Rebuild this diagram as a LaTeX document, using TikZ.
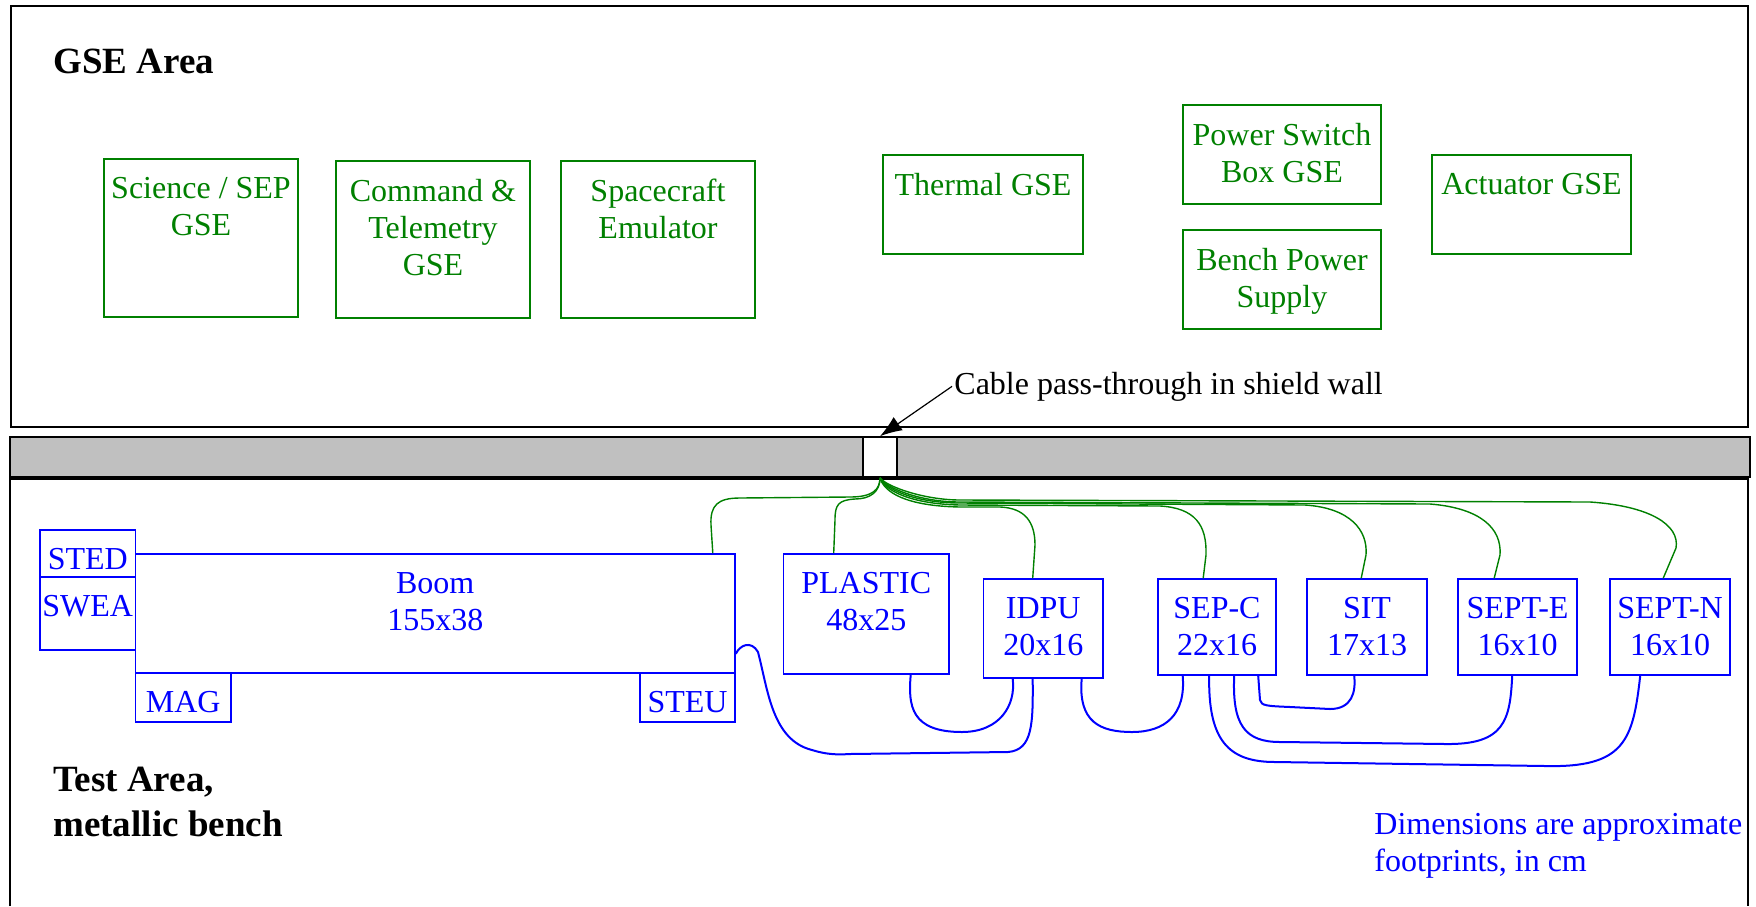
\documentclass[tikz,border=0pt]{standalone}
\usepackage{fontspec}
\setmainfont{Liberation Serif}
\usetikzlibrary{arrows.meta,calc,fit,positioning}
\definecolor{gsegreen}{RGB}{0,128,0}
\definecolor{wallgray}{RGB}{192,192,192}

\begin{document}
\begin{tikzpicture}[x=0.5pt,y=-0.5pt,font=\fontsize{16}{18.5}\selectfont,
  gbox/.style={draw=gsegreen,line width=0.65pt,inner sep=0pt},
  bbox/.style={draw=blue,line width=0.8pt,inner sep=0pt},
  gtxt/.style={text=gsegreen,align=center,anchor=north,inner sep=0pt},
  btxt/.style={text=blue,align=center,anchor=north,inner sep=0pt},
  area/.style={font=\fontsize{18.5}{22.5}\selectfont\bfseries,align=left,inner sep=0pt},
  gcable/.style={draw=gsegreen,line width=0.7pt},
  bcable/.style={draw=blue,line width=1pt},
  node distance=9.3pt]
 \useasboundingbox (0,0) rectangle (1756,906);
 % areas and shield wall
 \draw[line width=1pt] (11,6) rectangle (1748,427);
 \draw[line width=1pt] (10,906) -- (10,479) -- (1748,479) -- (1748,906);
 \draw[fill=wallgray,line width=0.8pt] (10,437) rectangle (863,477);
 \draw[fill=wallgray,line width=0.8pt] (897,437) rectangle (1750,477);
 \node[draw,fill=white,line width=0.8pt,inner sep=0pt,fit={(863,437) (897,477)}] (hole) {};
 \node[area,anchor=base west] (gsearea) at (53,73) {GSE Area};
 \node[area,anchor=north west] (testarea) at (53,767) {Test Area,\\metallic bench};
 \node[anchor=base west,inner sep=1pt] (passtxt) at (952,394) {Cable pass-through in shield wall};
 \draw[-{Latex[length=11pt,width=8pt]},line width=0.6pt] (passtxt.west) -- (hole.north);
 \node[text=blue,align=left,anchor=north west,inner sep=0pt] (note) at (1374,813)
   {Dimensions are approximate\\footprints, in cm};

 % GSE equipment
 \node[gbox,fit={(104,159) (298,317)}] (sci) {};
 \node[gtxt,below=of sci.north] (scit) {Science / SEP\\GSE};
 \node[gbox,fit={(336,161) (530,318)}] (cmd) {};
 \node[gtxt,below=of cmd.north] (cmdt) {Command \&\\Telemetry\\GSE};
 \node[gbox,fit={(561,161) (755,318)}] (scem) {};
 \node[gtxt,below=of scem.north] (scemt) {Spacecraft\\Emulator};
 \node[gbox,fit={(883,155) (1083,254)}] (therm) {};
 \node[gtxt,below=of therm.north] (thermt) {Thermal GSE};
 \node[gbox,fit={(1183,105) (1381,204)}] (psw) {};
 \node[gtxt,below=of psw.north] (pswt) {Power Switch\\Box GSE};
 \node[gbox,fit={(1183,230) (1381,329)}] (bps) {};
 \node[gtxt,below=of bps.north] (bpst) {Bench Power\\Supply};
 \node[gbox,fit={(1432,155) (1631,254)}] (act) {};
 \node[gtxt,below=of act.north] (actt) {Actuator GSE};

 % instrument on the bench
 \node[bbox,fit={(40,530) (135.5,577)}] (sted) {};
 \node[btxt,below=of sted.north] (stedt) {STED};
 \node[bbox,fit={(40,577) (135.5,650)}] (swea) {};
 \node[btxt,below=of swea.north] (sweat) {SWEA};
 \node[bbox,fit={(135.5,554) (735,673)}] (boom) {};
 \node[btxt,below=of boom.north] (boomt) {Boom\\155x38};
 \node[bbox,fit={(135.5,673) (231,722)}] (mag) {};
 \node[btxt,below=of mag.north] (magt) {MAG};
 \node[bbox,fit={(640,673) (735,722)}] (steu) {};
 \node[btxt,below=of steu.north] (steut) {STEU};
 \node[bbox,fit={(783.5,554) (949,674)}] (plastic) {};
 \node[btxt,below=of plastic.north] (plastict) {PLASTIC\\48x25};
 \node[bbox,fit={(983.5,579) (1103,678)}] (idpu) {};
 \node[btxt,below=of idpu.north] (idput) {IDPU\\20x16};
 \node[bbox,fit={(1158,579) (1276,675)}] (sepc) {};
 \node[btxt,below=of sepc.north] (sepct) {SEP-C\\22x16};
 \node[bbox,fit={(1307,579) (1427,675)}] (sit) {};
 \node[btxt,below=of sit.north] (sitt) {SIT\\17x13};
 \node[bbox,fit={(1458,579) (1577,675)}] (septe) {};
 \node[btxt,below=of septe.north] (septet) {SEPT-E\\16x10};
 \node[bbox,fit={(1610,579) (1730,675)}] (septn) {};
 \node[btxt,below=of septn.north] (septnt) {SEPT-N\\16x10};

 % cables through the wall
 \draw[gcable] (hole.south) .. controls (880,490) and (872,497) .. (850,497) -- (740,498)
   .. controls (718,498) and (710,505) .. (711,525) -- ($(boom.north east)+(-23,0)$);
 \draw[gcable] (hole.south) .. controls (880,492) and (870,499) .. (855,499)
   .. controls (838,500) and (835,505) .. (835,520) -- ($(plastic.north west)+(51,0)$);
 \draw[gcable] (hole.south) .. controls (884,492) and (905,506) .. (960,507) -- (1000,507)
   .. controls (1025,508) and (1035,522) .. (1035,545) -- ($(idpu.north west)+(50,0)$);
 \draw[gcable] (hole.south) .. controls (884,490) and (910,504) .. (960,505) -- (1160,506)
   .. controls (1195,508) and (1207,525) .. (1206,555) -- ($(sepc.north west)+(46,0)$);
 \draw[gcable] (hole.south) .. controls (885,489) and (915,503) .. (960,503) -- (1305,505)
   .. controls (1350,508) and (1368,530) .. (1366,555) -- ($(sit.north west)+(55,0)$);
 \draw[gcable] (hole.south) .. controls (886,488) and (920,502) .. (960,502) -- (1430,504)
   .. controls (1480,508) and (1502,528) .. (1500,555) -- ($(septe.north west)+(37,0)$);
 \draw[gcable] (hole.south) .. controls (887,487) and (925,500) .. (960,500) -- (1590,502)
   .. controls (1650,506) and (1680,525) .. (1676,548) -- ($(septn.north west)+(54,0)$);

 % harness on the bench
 \draw[bcable] ($(boom.south east)+(0,-20)$) .. controls (740,645) and (751,640) .. (758,652)
   .. controls (768,690) and (772,740) .. (812,750) .. controls (825,754) and (835,755) .. (850,754)
   -- (1008,752) .. controls (1033,750) and (1033,723) .. ($(idpu.south west)+(50,0)$);
 \draw[bcable] ($(plastic.south west)+(128,0)$) .. controls (908,706) and (911,732) .. (962,732)
   .. controls (1000,732) and (1016,705) .. ($(idpu.south west)+(30,0)$);
 \draw[bcable] ($(idpu.south west)+(99,0)$) .. controls (1078,722) and (1100,732) .. (1132,732)
   .. controls (1165,732) and (1186,715) .. ($(sepc.south west)+(25.5,0)$);
 \draw[bcable] ($(sepc.south west)+(101,0)$) -- (1260,700) .. controls (1261,706) and (1268,706) .. (1290,707)
   -- (1330,709) .. controls (1352,709) and (1356,692) .. ($(sit.south west)+(48,0)$);
 \draw[bcable] ($(sepc.south west)+(77,0)$) .. controls (1232,725) and (1245,742) .. (1280,742)
   -- (1445,744) .. controls (1505,745) and (1510,720) .. ($(septe.south west)+(55,0)$);
 \draw[bcable] ($(sepc.south west)+(52,0)$) .. controls (1208,740) and (1228,762) .. (1275,762)
   -- (1545,766) .. controls (1625,768) and (1633,740) .. ($(septn.south west)+(31,0)$);
\end{tikzpicture}
\end{document}
